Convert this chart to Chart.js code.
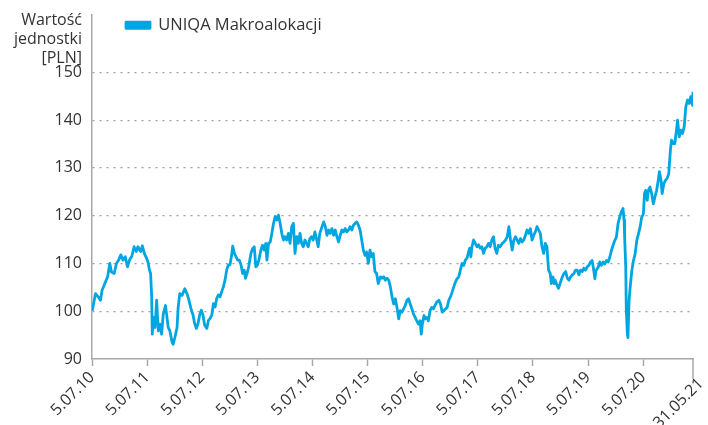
<!DOCTYPE html>
<html>
<head>
<meta charset="utf-8">
<script src="https://cdn.jsdelivr.net/npm/chart.js@4.4.0/dist/chart.umd.min.js"></script>
<style>
html, body { margin: 0; padding: 0; background: #fff; overflow: hidden; }
#wrap { width: 708px; height: 425px; position: relative; }
</style>
</head>
<body>
<div id="wrap"><canvas id="chart"></canvas></div>
<script>
const seriesName = 'UNIQA Makroalokacji';
const yTitle = ['Wartość', 'jednostki', '[PLN]'];
const yTicks = [90, 100, 110, 120, 130, 140, 150];
const tickYears = [2010.507, 2011.507, 2012.507, 2013.507, 2014.507, 2015.507, 2016.507, 2017.507, 2018.507, 2019.507, 2020.507];
const tickLabels = ['5.07.10', '5.07.11', '5.07.12', '5.07.13', '5.07.14', '5.07.15', '5.07.16', '5.07.17', '5.07.18', '5.07.19', '5.07.20'];
const endYear = 2021.41;
const endLabel = '31.05.21';

// time as decimal year, value of the unit in PLN
const years = [
  2010.51, 2010.53, 2010.57, 2010.62, 2010.66, 2010.69, 2010.74, 2010.79, 2010.83, 2010.86, 2010.91, 2010.95, 2010.99,
  2011.03, 2011.07, 2011.11, 2011.15, 2011.19, 2011.23, 2011.27, 2011.31, 2011.34, 2011.39, 2011.42, 2011.46, 2011.50,
  2011.52, 2011.55, 2011.57, 2011.59, 2011.60, 2011.62, 2011.65, 2011.68, 2011.71, 2011.74, 2011.77, 2011.80, 2011.84,
  2011.86, 2011.89, 2011.92, 2011.96, 2011.98, 2012.01, 2012.05, 2012.07, 2012.10, 2012.14, 2012.19, 2012.23, 2012.26,
  2012.28, 2012.31, 2012.34, 2012.37, 2012.40, 2012.43, 2012.46, 2012.49, 2012.52, 2012.55, 2012.59, 2012.62, 2012.65,
  2012.68, 2012.71, 2012.74, 2012.77, 2012.80, 2012.83, 2012.86, 2012.89, 2012.92, 2012.95, 2012.98, 2013.01, 2013.04,
  2013.06, 2013.09, 2013.12, 2013.15, 2013.18, 2013.21, 2013.24, 2013.27, 2013.29, 2013.32, 2013.35, 2013.39, 2013.42,
  2013.45, 2013.48, 2013.51, 2013.54, 2013.57, 2013.60, 2013.63, 2013.66, 2013.68, 2013.71, 2013.74, 2013.77, 2013.80,
  2013.83, 2013.86, 2013.89, 2013.92, 2013.95, 2013.98, 2014.01, 2014.04,
  2014.07, 2014.10, 2014.13, 2014.16, 2014.19, 2014.22, 2014.25, 2014.28, 2014.31, 2014.34, 2014.37, 2014.40, 2014.43,
  2014.46, 2014.49, 2014.52, 2014.55, 2014.58, 2014.61, 2014.64, 2014.68, 2014.71, 2014.74, 2014.77, 2014.80, 2014.83,
  2014.86, 2014.89, 2014.92, 2014.95, 2014.98, 2015.01, 2015.04, 2015.07, 2015.10, 2015.13, 2015.16, 2015.19, 2015.22,
  2015.25, 2015.28, 2015.31, 2015.34, 2015.37, 2015.40, 2015.43, 2015.46, 2015.49, 2015.52, 2015.55, 2015.58, 2015.61,
  2015.64, 2015.67, 2015.70, 2015.74, 2015.77, 2015.80, 2015.83, 2015.86,
  2015.89, 2015.92, 2015.95, 2015.98, 2016.01, 2016.04, 2016.07, 2016.10, 2016.13, 2016.16, 2016.19, 2016.22, 2016.25,
  2016.28, 2016.31, 2016.34, 2016.37, 2016.40, 2016.43, 2016.46, 2016.48, 2016.50, 2016.53, 2016.55, 2016.58, 2016.61,
  2016.64, 2016.67, 2016.70, 2016.73, 2016.76, 2016.80, 2016.83, 2016.86, 2016.89, 2016.92, 2016.95, 2016.98, 2017.01,
  2017.04, 2017.07, 2017.10, 2017.13, 2017.16, 2017.19, 2017.22, 2017.25, 2017.28, 2017.31, 2017.34, 2017.36, 2017.38,
  2017.40, 2017.43, 2017.46, 2017.49, 2017.52, 2017.55, 2017.58, 2017.61, 2017.64, 2017.67,
  2017.70, 2017.73, 2017.76, 2017.79, 2017.82, 2017.85, 2017.88, 2017.91, 2017.95, 2017.98, 2018.01, 2018.04, 2018.07,
  2018.10, 2018.13, 2018.16, 2018.19, 2018.22, 2018.25, 2018.28, 2018.31, 2018.34, 2018.37, 2018.40, 2018.43, 2018.46,
  2018.49, 2018.52, 2018.55, 2018.58, 2018.61, 2018.64, 2018.67, 2018.70, 2018.73, 2018.76, 2018.79, 2018.82, 2018.84,
  2018.87, 2018.89, 2018.91, 2018.94, 2018.97, 2019.01, 2019.04, 2019.07, 2019.10, 2019.13, 2019.16, 2019.19, 2019.22,
  2019.25, 2019.28, 2019.31, 2019.34, 2019.37, 2019.40, 2019.43, 2019.46, 2019.49,
  2019.52, 2019.55, 2019.58, 2019.61, 2019.63, 2019.65, 2019.69, 2019.72, 2019.75, 2019.78, 2019.81, 2019.84, 2019.87,
  2019.90, 2019.93, 2019.96, 2019.99, 2020.02, 2020.05, 2020.08, 2020.11, 2020.14, 2020.16, 2020.17, 2020.19, 2020.20,
  2020.22, 2020.23, 2020.25, 2020.27, 2020.30, 2020.33, 2020.36, 2020.39, 2020.42, 2020.45, 2020.48, 2020.51, 2020.53,
  2020.55, 2020.58, 2020.60, 2020.63, 2020.66, 2020.69, 2020.72, 2020.75, 2020.78, 2020.80, 2020.83, 2020.85, 2020.88,
  2020.91, 2020.94, 2020.97, 2021.00, 2021.02, 2021.05, 2021.08, 2021.11, 2021.13, 2021.16, 2021.19, 2021.22, 2021.25,
  2021.28, 2021.31, 2021.34, 2021.37, 2021.40, 2021.41
];
const values = [
  100.1, 101.2, 103.7, 103.0, 102.3, 104.4, 105.8, 107.2, 110.0, 108.2, 107.9, 110.0, 110.7,
  111.8, 110.7, 111.4, 109.3, 110.8, 111.5, 113.5, 112.5, 113.5, 112.5, 113.7, 112.0, 111.0,
  110.4, 108.6, 107.9, 103.0, 95.2, 98.7, 96.6, 102.3, 95.9, 97.3, 95.2, 99.4, 101.2,
  99.4, 96.6, 95.9, 93.5, 93.1, 94.5, 96.6, 100.8, 103.7, 103.3, 104.7, 103.7, 102.6,
  101.6, 100.2, 99.2, 97.4, 96.4, 97.4, 99.2, 100.2, 99.2, 97.1, 96.4, 98.1, 98.5,
  99.2, 101.6, 100.9, 102.7, 103.4, 103.0, 104.1, 105.1, 106.5, 108.6, 109.7, 109.7, 111.7,
  113.6, 112.1, 111.4, 110.7, 110.7, 109.7, 107.9, 108.6, 106.9, 107.9, 109.3, 112.1, 113.1,
  113.5, 109.3, 109.7, 111.0, 112.8, 113.8, 112.8, 114.2, 110.7, 114.2, 114.5, 116.3, 118.4,
  119.8, 119.1, 120.1, 118.4, 116.3, 114.9, 115.6, 114.9,
  116.3, 114.2, 117.7, 118.4, 112.1, 115.6, 114.2, 116.3, 114.2, 113.5, 114.9, 114.2, 113.5,
  115.2, 115.6, 114.9, 116.6, 115.2, 113.5, 116.3, 117.7, 118.7, 117.7, 115.9, 117.0, 116.3,
  117.3, 115.9, 117.0, 115.6, 114.5, 115.9, 117.0, 116.6, 117.3, 116.6, 117.0, 117.7, 117.0,
  118.0, 118.4, 118.7, 118.0, 117.0, 114.9, 112.8, 111.7, 112.4, 110.0, 112.8, 111.4, 112.1,
  108.3, 107.9, 105.8, 107.2, 106.9, 107.2, 106.5, 106.9,
  106.5, 105.1, 103.0, 101.5, 102.6, 100.8, 98.4, 100.1, 99.8, 100.5, 101.2, 102.3, 102.6,
  101.5, 100.5, 99.4, 98.7, 98.0, 97.3, 98.0, 95.2, 97.3, 99.1, 98.4, 98.7, 98.0,
  100.1, 100.8, 100.5, 101.2, 101.9, 102.3, 101.5, 99.8, 100.1, 100.5, 100.8, 102.3, 103.0,
  104.0, 105.1, 106.1, 106.8, 107.2, 108.6, 110.0, 109.6, 110.7, 111.1, 112.5, 113.2, 111.4,
  113.5, 114.9, 114.2, 113.5, 113.9, 113.2, 113.5, 112.1, 113.2, 113.5,
  114.2, 113.5, 114.9, 115.6, 113.1, 112.1, 113.8, 113.5, 114.2, 114.5, 114.9, 115.6, 117.7,
  114.9, 112.8, 114.9, 115.6, 114.9, 114.2, 115.2, 114.5, 114.9, 115.9, 117.0, 116.3, 117.3,
  114.9, 115.9, 116.6, 117.7, 117.0, 116.3, 113.5, 112.1, 114.2, 113.5, 108.6, 107.9, 105.8,
  107.2, 105.8, 106.5, 105.5, 104.8, 106.2, 107.2, 107.9, 108.3, 106.9, 106.5, 107.2, 107.6,
  107.9, 108.6, 108.6, 107.6, 108.6, 108.3, 109.0, 108.6, 109.3,
  109.6, 110.3, 110.6, 108.5, 106.8, 108.5, 109.2, 110.3, 109.6, 110.3, 109.9, 110.6, 110.3,
  111.3, 112.7, 113.8, 114.8, 115.5, 118.3, 119.7, 120.8, 121.5, 119.0, 115.5, 109.2, 100.1,
  95.2, 94.5, 102.2, 105.0, 108.5, 110.6, 112.0, 114.8, 116.2, 117.6, 119.7, 120.4, 124.6,
  125.3, 123.2, 125.3, 126.0, 124.6, 122.5, 123.9, 125.3, 127.4, 129.2, 127.4, 124.6, 126.7,
  127.4, 127.8, 128.8, 133.7, 135.8, 135.1, 135.1, 137.9, 140.0, 136.5, 137.9, 137.2, 138.6,
  142.8, 144.2, 143.5, 144.9, 143.1, 145.9
];

const textColor = '#333';
const lineColor = '#00a6e2';
const axisColor = '#a8a8a8';
const font = { family: '"Open Sans", sans-serif', size: 16 };

// legend sits inside the plot, a bit right of the y axis
const placeLegend = {
  id: 'placeLegend',
  afterLayout(chart) {
    const lg = chart.legend;
    const a = chart.chartArea;
    const w = lg.width, h = lg.height;
    lg.left = a.left + 26;
    lg.right = lg.left + w;
    lg.top = 9;
    lg.bottom = lg.top + h;
  }
};

// y axis title above the top tick, and the longer last tick on x
const extras = {
  id: 'extras',
  afterDraw(chart) {
    const ctx = chart.ctx;
    const a = chart.chartArea;
    const sx = chart.scales.x;
    const sy = chart.scales.y;
    ctx.save();
    ctx.fillStyle = textColor;
    ctx.font = font.size + 'px ' + font.family;
    ctx.textAlign = 'right';
    ctx.textBaseline = 'middle';
    const top = sy.getPixelForValue(150);
    yTitle.forEach((t, i) => ctx.fillText(t, a.left - 10, top - 52 + i * 19));

    const x = sx.getPixelForValue(endYear);
    ctx.strokeStyle = axisColor;
    ctx.lineWidth = 1.5;
    ctx.beginPath();
    ctx.moveTo(x, a.bottom);
    ctx.lineTo(x, a.bottom + 20);
    ctx.stroke();
    ctx.translate(x + 8, a.bottom + 22);
    ctx.rotate(-Math.PI / 4);
    ctx.fillText(endLabel, 0, 0);
    ctx.restore();
  }
};

new Chart(document.getElementById('chart'), {
  type: 'line',
  data: {
    datasets: [{
      label: seriesName,
      data: years.map((x, i) => ({ x: x, y: values[i] })),
      borderColor: lineColor,
      backgroundColor: lineColor,
      borderWidth: 2.8,
      pointRadius: 0,
      tension: 0,
      borderJoinStyle: 'round'
    }]
  },
  options: {
    responsive: true,
    maintainAspectRatio: false,
    animation: false,
    layout: { padding: { left: 52, top: 15, right: 15, bottom: 0 } },
    scales: {
      x: {
        type: 'linear',
        min: tickYears[0],
        max: endYear,
        afterBuildTicks: s => { s.ticks = tickYears.map(v => ({ value: v })); },
        afterFit: s => { s.height = 66; },
        ticks: {
          callback: (v, i) => tickLabels[i],
          autoSkip: false,
          minRotation: 45,
          maxRotation: 45,
          padding: 2,
          color: textColor,
          font: font
        },
        grid: { drawOnChartArea: false, tickLength: 7, tickColor: axisColor, tickWidth: 1.5 },
        border: { color: axisColor, width: 1.5 }
      },
      y: {
        min: 90,
        max: 162,
        afterBuildTicks: s => { s.ticks = yTicks.map(v => ({ value: v })); },
        afterFit: s => { s.width = 40; s.paddingTop = 0; s.paddingBottom = 0; },
        ticks: { padding: 10, color: textColor, font: font },
        grid: {
          drawTicks: false,
          lineWidth: 1.2,
          color: c => (c.tick && c.tick.value === 90) ? 'rgba(0,0,0,0)' : '#a0a0a0'
        },
        border: { color: axisColor, width: 1.5, dash: [2, 5] }
      }
    },
    plugins: {
      legend: {
        position: 'chartArea',
        align: 'start',
        labels: { boxWidth: 24, boxHeight: 6, padding: 8, color: textColor, font: { family: font.family, size: 16.5 } }
      },
      tooltip: { enabled: false }
    }
  },
  plugins: [placeLegend, extras]
});
</script>
</body>
</html>
